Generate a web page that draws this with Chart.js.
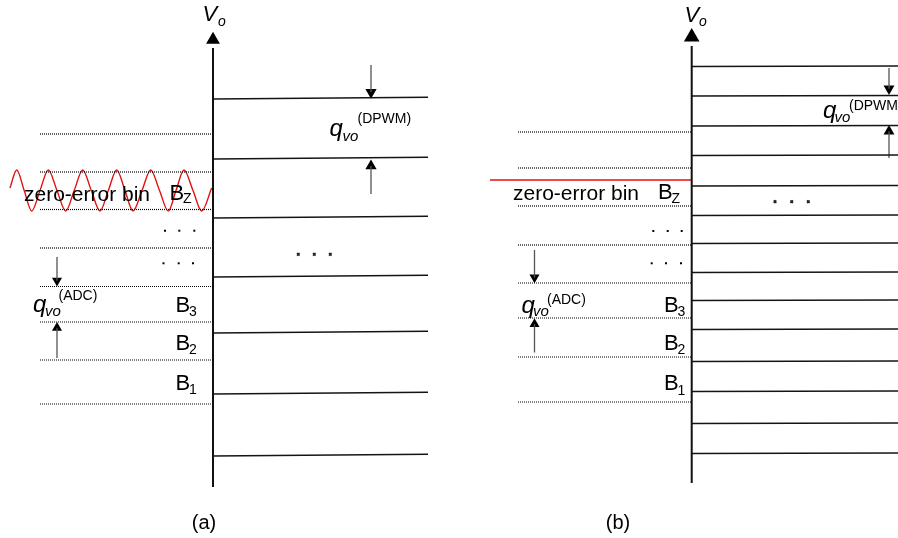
<!DOCTYPE html>
<html>
<head>
<meta charset="utf-8">
<script src="https://cdn.jsdelivr.net/npm/chart.js@4.4.1/dist/chart.umd.min.js"></script>
<style>
  html, body { margin: 0; padding: 0; background: #fff; }
  #chart { display: block; }
</style>
</head>
<body>
<canvas id="chart" width="898" height="538"></canvas>
<script>
// diagram units: 1 unit = 1 px, y grows downwards
const dpwmLevelsA = [99, 159, 218, 277, 333, 394, 456];
const adcEdgesA = [134, 172, 209.5, 248, 286.5, 322, 360, 404];
const dpwmLevelsB = [66.5, 96, 126, 155.5, 186, 215.5, 243.5, 272.5, 300.5, 329.5, 361.5, 391.5, 423.5, 453.5];
const adcEdgesB = [132, 168, 206, 245, 283, 318, 357, 402];
const zeroErrorLevelB = 180;

const rippleX = [10, 16.7, 24.2, 31.7, 40, 48.3, 57, 65.7, 74.2, 82.7, 91.3, 100, 108.3,
  116.7, 125, 133, 142, 150.7, 159.5, 168.3, 176, 184, 193, 201.7, 211.7];
const rippleY = [188, 170, 190.5, 211, 190.5, 170, 190.5, 211, 190.5, 170, 190.5, 211, 190.5,
  170, 190.5, 211, 190.5, 170, 190.5, 211, 190.5, 170, 190.5, 211, 188];

const binNames = ["Z", "3", "2", "1"];

// --- layout ---
const panelA = { axisX: 213, axisTop: 44, axisBottom: 487, solidEnd: 428, dotStart: 40, tilt: 1.7 };
const panelB = { axisX: 691.7, axisTop: 42, axisBottom: 483, solidEnd: 898, dotStart: 518, tilt: 0.6 };

const FONT = '"Liberation Sans", Arial, Helvetica, sans-serif';
const INK = "#000";
const RED = "#e01010";

function seg(x1, y1, x2, y2, color, width, dash) {
  return {
    data: [{ x: x1, y: y1 }, { x: x2, y: y2 }],
    showLine: true,
    borderColor: color,
    borderWidth: width,
    borderDash: dash || [],
    pointRadius: 0,
    fill: false
  };
}

function marks(xs, ys, style, r, color, rot) {
  return {
    data: xs.map((x, i) => ({ x: x, y: ys[i] })),
    showLine: false,
    pointStyle: style,
    pointRadius: r,
    pointRotation: rot || 0,
    backgroundColor: color,
    borderColor: color,
    borderWidth: style === "crossRot" ? 1.6 : 0
  };
}

// arrow: shaft from `from` to tip, triangle head pointing up or down
function arrow(x, from, tip, r) {
  const dir = tip > from ? 1 : -1;
  return [
    seg(x, from, x, tip - dir * r, "#555", 1.3),
    marks([x], [tip - dir * r], "triangle", r, "#000", dir > 0 ? 180 : 0)
  ];
}

const datasets = [];

[panelA, panelB].forEach((p, k) => {
  const levels = k === 0 ? dpwmLevelsA : dpwmLevelsB;
  const edges = k === 0 ? adcEdgesA : adcEdgesB;
  levels.forEach(y => datasets.push(seg(p.axisX, y, p.solidEnd, y - p.tilt, "#141414", 1.5)));
  edges.forEach(y => datasets.push(seg(p.dotStart, y, p.axisX, y, "#000", 1.2, [1, 1])));
  datasets.push(seg(p.axisX, p.axisTop + 4, p.axisX, p.axisBottom, "#111", 2));
});

// axis arrowheads
datasets.push(marks([panelA.axisX], [31.7 + 8], "triangle", 8, "#000"));
datasets.push(marks([panelB.axisX], [28 + 9], "triangle", 9, "#000"));

// ripple (a) and zero-error level (b)
datasets.push({
  data: rippleX.map((x, i) => ({ x: x, y: rippleY[i] })),
  showLine: true,
  cubicInterpolationMode: "monotone",
  borderColor: RED,
  borderWidth: 1.4,
  pointRadius: 0,
  fill: false
});
datasets.push(seg(490, zeroErrorLevelB, panelB.axisX, zeroErrorLevelB, RED, 1.4));

// quantisation step arrows
arrow(371, 65, 98.7, 6.5).forEach(d => datasets.push(d));
arrow(371, 194, 159.5, 6.5).forEach(d => datasets.push(d));
arrow(57, 257, 286.5, 5.8).forEach(d => datasets.push(d));
arrow(57, 358, 322, 5.8).forEach(d => datasets.push(d));
arrow(889, 68, 95, 6.3).forEach(d => datasets.push(d));
arrow(889, 158, 125, 6.3).forEach(d => datasets.push(d));
arrow(534.5, 250, 283.3, 5.8).forEach(d => datasets.push(d));
arrow(534.5, 352.5, 318.3, 5.8).forEach(d => datasets.push(d));

// ellipsis dots
datasets.push(marks([165, 179.3, 194.3, 163.5, 178.7, 193], [230.7, 230.7, 230.7, 263.3, 263.3, 263.3], "rect", 1.4, "#000"));
datasets.push(marks([653.3, 667.7, 681.7, 651.7, 666, 681], [231, 231, 231, 263.3, 263.3, 263.3], "rect", 1.4, "#000"));
datasets.push(marks([298.3, 314.3, 330.3], [254.3, 254.3, 254.3], "crossRot", 1.8, "#222"));
datasets.push(marks([775, 791.7, 808.3], [201.7, 201.7, 201.7], "crossRot", 1.8, "#222"));

// text: [text, x, baseline, size, italic, align]
const texts = [
  ["V", 202.5, 20.5, 22, true], ["o", 218, 25.5, 14, true],
  ["q", 329.5, 136, 24, true], ["vo", 342.5, 140.5, 15, true], ["(DPWM)", 357.5, 123, 14, false],
  ["zero-error bin", 24, 200.5, 21, false],
  ["B", 169.5, 200, 22, false], [binNames[0], 183, 203, 14, false],
  ["q", 33, 312, 24, true], ["vo", 45, 315.5, 15, true], ["(ADC)", 58.5, 299.5, 14, false],
  ["B", 175.5, 311.5, 22, false], [binNames[1], 189, 315.5, 14, false],
  ["B", 175.5, 349.5, 22, false], [binNames[2], 189, 353.5, 14, false],
  ["B", 175.5, 389.5, 22, false], [binNames[3], 189, 394, 14, false],
  ["(a)", 204, 529, 20, false, "center"],

  ["V", 684.5, 22, 22, true], ["o", 699, 26, 14, true],
  ["q", 823, 117.5, 24, true], ["vo", 834.5, 121.5, 15, true], ["(DPWM)", 849, 109.5, 14, false],
  ["zero-error bin", 513, 200, 21, false],
  ["B", 658, 199, 22, false], [binNames[0], 671.5, 202.5, 14, false],
  ["q", 521.5, 313, 24, true], ["vo", 533, 315.5, 15, true], ["(ADC)", 547, 303.5, 14, false],
  ["B", 664, 311.5, 22, false], [binNames[1], 677.5, 316, 14, false],
  ["B", 664, 349.5, 22, false], [binNames[2], 677.5, 353.5, 14, false],
  ["B", 664, 390, 22, false], [binNames[3], 677.5, 394.5, 14, false],
  ["(b)", 618, 529, 20, false, "center"]
];

const textPlugin = {
  id: "diagramText",
  afterDatasetsDraw(chart) {
    const { ctx, scales } = chart;
    ctx.save();
    ctx.fillStyle = INK;
    ctx.textBaseline = "alphabetic";
    texts.forEach(t => {
      ctx.font = (t[4] ? "italic " : "") + t[3] + "px " + FONT;
      ctx.textAlign = t[5] || "left";
      ctx.fillText(t[0], scales.x.getPixelForValue(t[1]), scales.y.getPixelForValue(t[2]));
    });
    ctx.restore();
  }
};

new Chart(document.getElementById("chart"), {
  type: "scatter",
  data: { datasets: datasets },
  options: {
    responsive: false,
    animation: false,
    events: [],
    layout: { padding: 0, autoPadding: false },
    plugins: { legend: { display: false }, tooltip: { enabled: false } },
    scales: {
      x: { type: "linear", min: 0, max: 898, display: false },
      y: { type: "linear", min: 0, max: 538, reverse: true, display: false }
    }
  },
  plugins: [textPlugin]
});
</script>
</body>
</html>
